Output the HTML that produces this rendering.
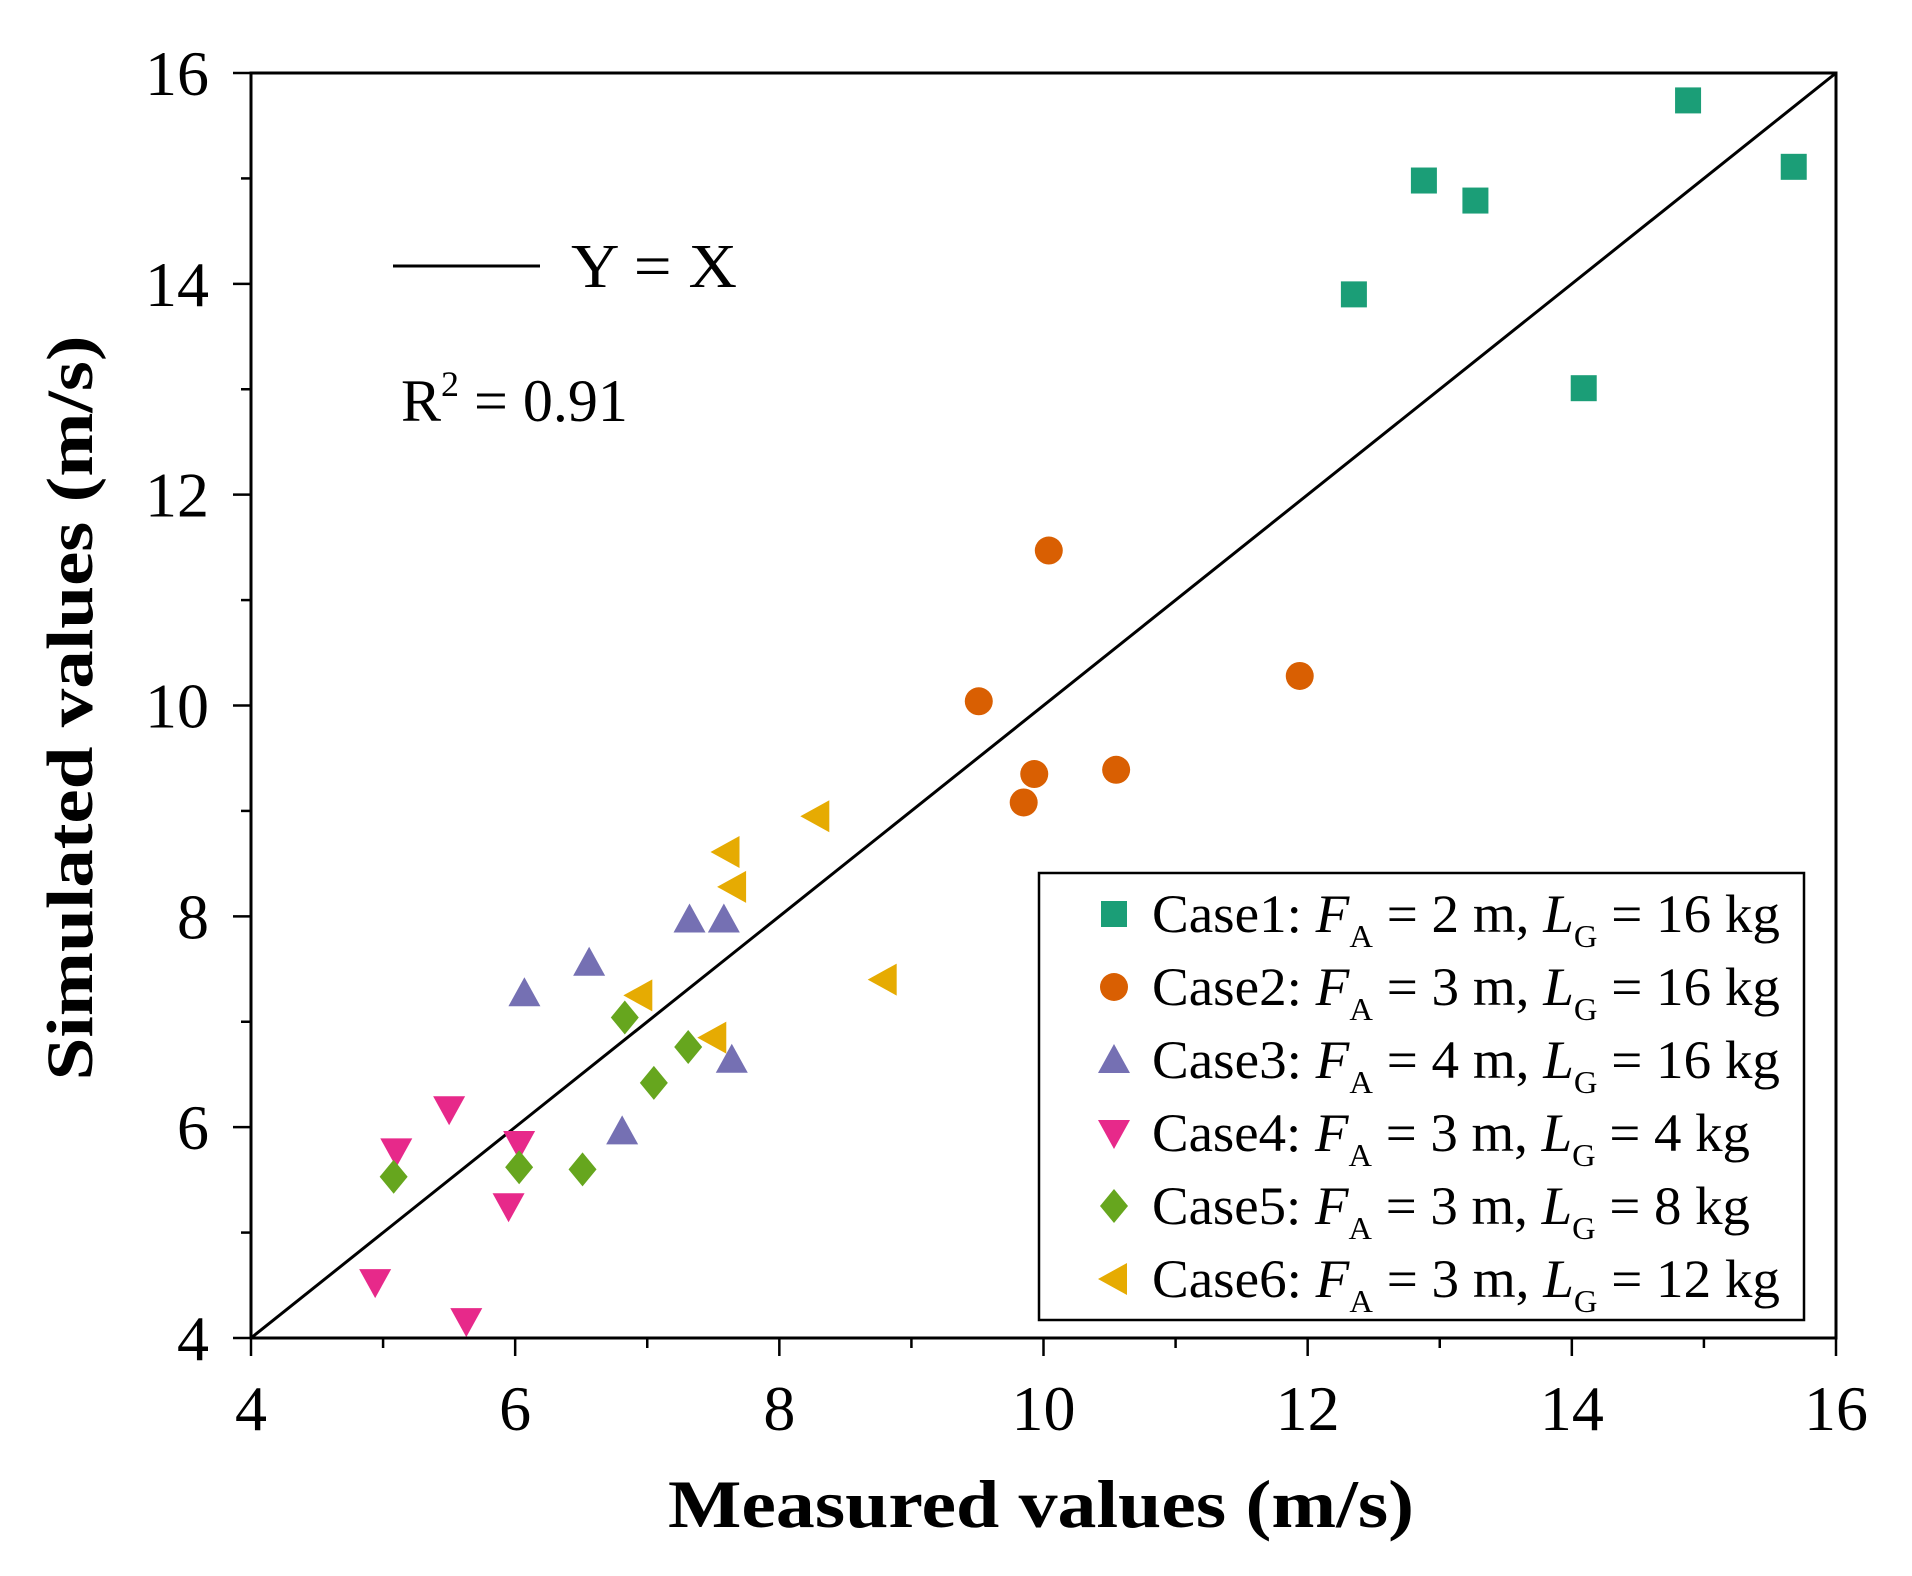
<!DOCTYPE html>
<html><head><meta charset="utf-8"><style>
html,body{margin:0;padding:0;background:#fff;}
svg{display:block;font-family:"Liberation Serif",serif;}
</style></head><body>
<svg id="chart" width="1912" height="1576" viewBox="0 0 1912 1576">
<g id="ticks"></g><g id="diag"></g><g id="marks"></g>
<rect x="251" y="73" width="1585" height="1265" fill="none" stroke="#000" stroke-width="3"/>
<line x1="393" y1="266" x2="540" y2="266" stroke="#000" stroke-width="3"/>
<text x="571" y="287" font-size="62" textLength="166" lengthAdjust="spacingAndGlyphs">Y = X</text>
<text x="401" y="421" font-size="60">R<tspan dy="-25" font-size="36">2</tspan><tspan dy="25"> = 0.91</tspan></text>
<text x="1041" y="1527" font-size="68" font-weight="bold" text-anchor="middle" textLength="746" lengthAdjust="spacingAndGlyphs">Measured values (m/s)</text>
<text transform="translate(92,708) rotate(-90)" font-size="66" font-weight="bold" text-anchor="middle" textLength="745" lengthAdjust="spacingAndGlyphs">Simulated values (m/s)</text>
<rect x="1039" y="873" width="765" height="447" fill="#fff" stroke="#000" stroke-width="2.5"/>
<g id="legend"></g>
</svg>
<script>
const xTicks=[4,6,8,10,12,14,16];
const yTicks=[4,6,8,10,12,14,16];
const seriesNames=["Case1","Case2","Case3","Case4","Case5","Case6"];
const legendFA=["2","3","4","3","3","3"];
const legendLG=["16","16","16","4","8","12"];
const case1X=[14.88,15.68,12.88,13.27,12.35,14.09];
const case1Y=[15.74,15.11,14.98,14.79,13.90,13.01];
const case2X=[10.04,11.94,9.51,9.93,10.55,9.85];
const case2Y=[11.47,10.28,10.04,9.35,9.39,9.08];
const case3X=[6.56,6.07,7.32,7.58,7.64,6.81];
const case3Y=[7.56,7.27,7.97,7.97,6.64,5.96];
const case4X=[5.50,5.10,6.03,5.95,4.94,5.63];
const case4Y=[6.17,5.77,5.84,5.25,4.53,4.16];
const case5X=[6.83,7.31,7.05,6.03,6.51,5.08];
const case5Y=[7.04,6.76,6.42,5.62,5.60,5.53];
const case6X=[8.28,7.60,7.65,8.79,6.94,7.50];
const case6Y=[8.95,8.61,8.28,7.40,7.25,6.85];
const colors=["#1b9e77","#d95f02","#7570b3","#e7298a","#66a61e","#e6ab02"];
const shapes=["square","circle","up","down","diamond","left"];
const allX=[case1X,case2X,case3X,case4X,case5X,case6X];
const allY=[case1Y,case2Y,case3Y,case4Y,case5Y,case6Y];

const X0=251,X1=1836,Y0=1338,Y1=73;
function sx(v){return X0+(v-4)/12*(X1-X0);}
function sy(v){return Y0-(v-4)/12*(Y0-Y1);}
const NS="http://www.w3.org/2000/svg";
function mk(tag,attrs,parent){const e=document.createElementNS(NS,tag);for(const k in attrs)e.setAttribute(k,attrs[k]);parent.appendChild(e);return e;}
const tg=document.getElementById('ticks');
for(let v=4;v<=16;v+=1){
  const major=(v%2===0);const L=major?18:10;
  const t=mk('line',{x1:sx(v),x2:sx(v),y1:Y0,y2:Y0+L,stroke:'#000','stroke-width':2.5},tg);
  
  
  const u=mk('line',{x1:X0-L,x2:X0,y1:sy(v),y2:sy(v),stroke:'#000','stroke-width':2.5},tg);
  
  
}
xTicks.forEach(v=>{
  const t=mk('text',{x:sx(v),y:Y0+92,'font-size':64,'text-anchor':'middle'},tg);t.textContent=v;
  
  
});
yTicks.forEach(v=>{
  const t=mk('text',{x:X0-42,y:sy(v)+22,'font-size':64,'text-anchor':'end'},tg);t.textContent=v;
  
  
});
const dl=mk('line',{x1:sx(4),y1:sy(4),x2:sx(16),y2:sy(16),stroke:'#000','stroke-width':3},document.getElementById('diag'));



function marker(shape,cx,cy,col,parent){
  const s=13;let e;
  if(shape==='square')e=mk('rect',{x:cx-s,y:cy-s,width:2*s,height:2*s,fill:col},parent);
  else if(shape==='circle')e=mk('circle',{cx:cx,cy:cy,r:s+1,fill:col},parent);
  else{let p;
    if(shape==='up')p=[[cx,cy-s-3],[cx+s+3,cy+s],[cx-s-3,cy+s]];
    else if(shape==='down')p=[[cx-s-3,cy-s],[cx+s+3,cy-s],[cx,cy+s+3]];
    else if(shape==='diamond')p=[[cx,cy-s-4],[cx+s+1,cy],[cx,cy+s+4],[cx-s-1,cy]];
    else p=[[cx-s-3,cy],[cx+s,cy-s-3],[cx+s,cy+s+3]];
    e=mk('polygon',{points:p.map(q=>q.join(',')).join(' '),fill:col},parent);}
  return e;
}
const mg=document.getElementById('marks');
for(let i=0;i<6;i++){
  for(let j=0;j<allX[i].length;j++){
    const e=marker(shapes[i],sx(allX[i][j]),sy(allY[i][j]),colors[i],mg);
    
    
  }
}
const lg=document.getElementById('legend');
for(let i=0;i<6;i++){
  const y=914+i*73;
  const e=marker(shapes[i],1114,y,colors[i],lg);
  
  
  const t=mk('text',{x:1152,y:y+18,'font-size':54},lg);
  t.innerHTML=seriesNames[i]+': <tspan font-style="italic">F</tspan><tspan font-size="32" dy="15">A</tspan><tspan dy="-15"> = '+legendFA[i]+' m, </tspan><tspan font-style="italic">L</tspan><tspan font-size="32" dy="15">G</tspan><tspan dy="-15"> = '+legendLG[i]+' kg</tspan>';
  t.setAttribute('textLength', legendLG[i].length===1?598:628);
  t.setAttribute('lengthAdjust','spacingAndGlyphs');
  
  
}
</script>
</body></html>
